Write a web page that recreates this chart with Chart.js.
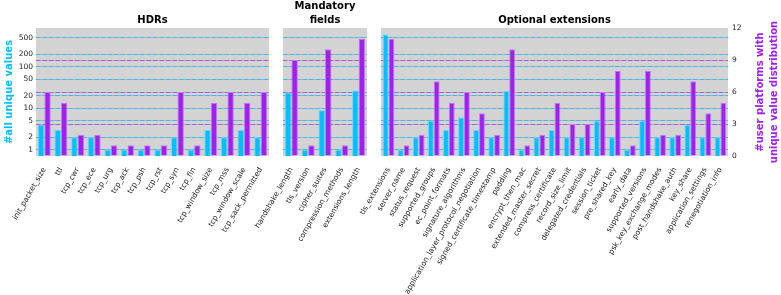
<!DOCTYPE html>
<html>
<head>
<meta charset="utf-8">
<script src="https://cdn.jsdelivr.net/npm/chart.js@4.4.1/dist/chart.umd.min.js"></script>
<style>
  body { margin: 0; background: #fff; }
  #wrap { position: relative; width: 781px; height: 295px; }
  #wrap canvas { position: absolute; left: 0; top: 0; }
</style>
</head>
<body>
<div id="wrap">
  <canvas id="hdrChart" width="781" height="295"></canvas>
  <canvas id="mandChart" width="781" height="295"></canvas>
  <canvas id="optChart" width="781" height="295"></canvas>
</div>
<script>
// ---- data ----
const hdrLabels = ['init_packet_size', 'ttl', 'tcp_cwr', 'tcp_ece', 'tcp_urg', 'tcp_ack', 'tcp_psh',
    'tcp_rst', 'tcp_syn', 'tcp_fin', 'tcp_window_size', 'tcp_mss', 'tcp_window_scale', 'tcp_sack_permitted'];
const hdrUnique = [4, 3, 2, 2, 1, 1, 1, 1, 2, 1, 3, 2, 3, 2];
const hdrPlatforms = [6, 5, 2, 2, 1, 1, 1, 1, 6, 1, 5, 6, 5, 6];

const mandLabels = ['handshake_length', 'tls_version', 'cipher_suites', 'compression_methods', 'extensions_length'];
const mandUnique = [24, 1, 9, 1, 27];
const mandPlatforms = [9, 1, 10, 1, 11];

const optLabels = ['tls_extensions', 'server_name', 'status_request', 'supported_groups', 'ec_point_formats',
    'signature_algorithms', 'application_layer_protocol_negotiation', 'signed_certificate_timestamp', 'padding',
    'encrypt_then_mac', 'extended_master_secret', 'compress_certificate', 'record_size_limit',
    'delegated_credentials', 'session_ticket', 'pre_shared_key', 'early_data', 'supported_versions',
    'psk_key_exchange_modes', 'post_handshake_auth', 'key_share', 'application_settings', 'renegotiation_info'];
const optUnique = [600, 1, 2, 5, 3, 6, 3, 2, 26, 1, 2, 3, 2, 2, 5, 2, 1, 5, 2, 2, 4, 2, 2];
const optPlatforms = [11, 1, 2, 7, 5, 6, 4, 2, 10, 1, 2, 5, 3, 3, 6, 8, 1, 8, 2, 2, 7, 4, 5];

const logTicks = [1, 2, 5, 10, 20, 50, 100, 200, 500];
const platformTicks = [0, 3, 6, 9, 12];

// ---- style ----
const FONT = 'DejaVu Sans';
const CYAN = '#00bfff';
const PURPLE = '#a020f0';
const GRID_GREY = '#b3b3b3';
const tickFont = { family: FONT, size: 7.5 };

const plotBackground = {
    id: 'plotBackground',
    beforeDraw(chart) {
        const { ctx, chartArea: a } = chart;
        ctx.save();
        ctx.fillStyle = '#d3d3d3';
        ctx.fillRect(a.left, a.top, a.width, a.height);
        ctx.restore();
    }
};

// right axis title reads bottom-to-top, Chart.js draws it the other way
const rightTitle = {
    id: 'rightTitle',
    afterDraw(chart) {
        const s = chart.scales.y1;
        if (!s.options.ticks.display) return;
        const ctx = chart.ctx;
        const cy = (s.top + s.bottom) / 2;
        ctx.save();
        ctx.fillStyle = PURPLE;
        ctx.font = 'bold 10px "DejaVu Sans"';
        ctx.textAlign = 'center';
        ctx.textBaseline = 'middle';
        [['#user platforms with', s.right - 21], ['unique value distribution', s.right - 7]].forEach(([t, x]) => {
            ctx.save();
            ctx.translate(x, cy);
            ctx.rotate(-Math.PI / 2);
            ctx.fillText(t, 0, 0);
            ctx.restore();
        });
        ctx.restore();
    }
};

function setTicks(values) {
    return axis => { axis.ticks = values.map(v => ({ value: v })); };
}

function makeChart(id, cfg) {
    const inner = v => v !== 0 && v !== 12;
    return new Chart(document.getElementById(id), {
        type: 'bar',
        data: {
            labels: cfg.labels,
            datasets: [
                {
                    label: '#all unique values',
                    data: cfg.unique,
                    yAxisID: 'y',
                    backgroundColor: CYAN,
                    borderColor: '#66d6ff',
                    borderWidth: 1
                },
                {
                    label: '#user platforms',
                    data: cfg.platforms,
                    yAxisID: 'y1',
                    backgroundColor: PURPLE,
                    borderColor: '#c27cf6',
                    borderWidth: 1
                }
            ]
        },
        options: {
            responsive: false,
            animation: false,
            categoryPercentage: 0.77,
            barPercentage: 1.0,
            layout: { padding: cfg.padding },
            plugins: {
                legend: { display: false },
                tooltip: { enabled: false },
                title: {
                    display: true,
                    text: cfg.title,
                    fullSize: false,
                    color: '#000',
                    font: { family: FONT, size: 10, weight: 'bold', lineHeight: 1.33 },
                    padding: cfg.titlePad
                }
            },
            scales: {
                x: {
                    grid: { display: false },
                    border: { display: false },
                    ticks: {
                        autoSkip: false, minRotation: 60, maxRotation: 60,
                        padding: 2, color: '#222', font: tickFont
                    },
                    afterFit: a => { a.height = 139; a.paddingLeft = 0; a.paddingRight = 0; }
                },
                yGrey: {
                    type: 'logarithmic', position: 'left', bounds: 'data',
                    min: 0.71, max: 860,
                    afterBuildTicks: setTicks(logTicks),
                    ticks: { display: false },
                    grid: { color: GRID_GREY, drawTicks: false, z: -2 },
                    border: { display: false },
                    afterFit: a => { a.width = 0; a.paddingTop = 0; a.paddingBottom = 0; }
                },
                y: {
                    type: 'logarithmic', position: 'left', bounds: 'data',
                    min: 0.71, max: 860,
                    afterBuildTicks: setTicks(logTicks),
                    ticks: {
                        display: cfg.showLeft, padding: 3, color: '#222', font: tickFont,
                        callback: v => String(v)
                    },
                    grid: { color: '#3cbdf0', drawTicks: false, z: -1 },
                    border: { display: false, dash: [4.5, 2] },
                    title: {
                        display: cfg.showLeft, text: '#all unique values', color: CYAN,
                        font: { family: FONT, size: 10, weight: 'bold' }, padding: { top: 3.5, bottom: 0 }
                    },
                    afterFit: a => { a.width = cfg.showLeft ? 36 : 0; a.paddingTop = 0; a.paddingBottom = 0; }
                },
                y1Grey: {
                    type: 'linear', position: 'right', min: 0, max: 12,
                    afterBuildTicks: setTicks(platformTicks.filter(inner)),
                    ticks: { display: false },
                    grid: { color: GRID_GREY, drawTicks: false, z: -2 },
                    border: { display: false },
                    afterFit: a => { a.width = 0; a.paddingTop = 0; a.paddingBottom = 0; }
                },
                y1: {
                    type: 'linear', position: 'right', min: 0, max: 12,
                    afterBuildTicks: setTicks(platformTicks),
                    ticks: { display: cfg.showRight, padding: 4, color: '#222', font: tickFont },
                    grid: {
                        drawTicks: false, z: -1,
                        color: c => inner(c.tick.value) ? '#a65ee2' : 'rgba(0,0,0,0)'
                    },
                    border: { display: false, dash: [4.5, 2] },
                    afterFit: a => { a.width = cfg.showRight ? 53 : 0; a.paddingTop = 0; a.paddingBottom = 0; }
                }
            }
        },
        plugins: [plotBackground, rightTitle]
    });
}

// ==============================
// HDRs
// ==============================
makeChart('hdrChart', {
    labels: hdrLabels, unique: hdrUnique, platforms: hdrPlatforms,
    title: 'HDRs', titlePad: { top: 13.4, bottom: 1.3 },
    padding: { left: 0, right: 512, top: 0, bottom: 0 },
    showLeft: true, showRight: false
});

// ==============================
// MANDATORY FIELDS
// ==============================
makeChart('mandChart', {
    labels: mandLabels, unique: mandUnique, platforms: mandPlatforms,
    title: ['Mandatory', 'fields'], titlePad: { top: 0, bottom: 1.4 },
    padding: { left: 283, right: 414, top: 0, bottom: 0 },
    showLeft: false, showRight: false
});

// ==============================
// OPTIONAL EXTENSIONS
// ==============================
makeChart('optChart', {
    labels: optLabels, unique: optUnique, platforms: optPlatforms,
    title: 'Optional extensions', titlePad: { top: 13.4, bottom: 1.3 },
    padding: { left: 381, right: 0, top: 0, bottom: 0 },
    showLeft: false, showRight: true
});
</script>
</body>
</html>
